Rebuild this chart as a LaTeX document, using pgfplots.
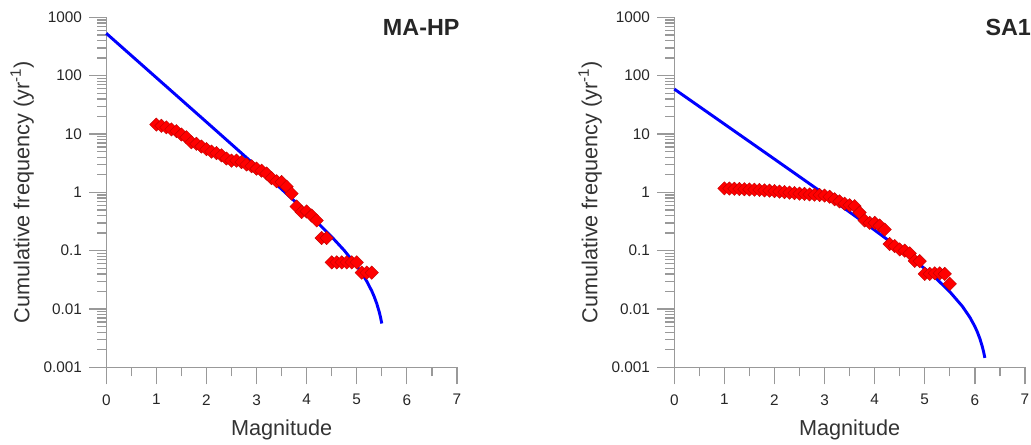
\documentclass[border=0pt]{standalone}
\usepackage{fontspec}
\setmainfont{Liberation Sans}
\usepackage{pgfplots}
\usepackage{pgfplotstable}
\pgfplotsset{compat=1.18}

% left panel (MA-HP)
\pgfplotstableread{
M N
1.0 14.5
1.1 13.8
1.2 13.0
1.3 12.0
1.4 11.2
1.5 9.8
1.6 8.8
1.7 7.2
1.8 6.8
1.9 6.1
2.0 5.5
2.1 5.0
2.2 4.7
2.3 4.3
2.4 3.8
2.5 3.5
2.6 3.5
2.7 3.3
2.8 3.0
2.9 2.8
3.0 2.55
3.1 2.35
3.2 2.1
3.3 1.75
3.4 1.55
3.5 1.5
3.6 1.25
3.7 0.95
3.8 0.57
3.9 0.46
4.0 0.47
4.1 0.40
4.2 0.33
4.3 0.165
4.4 0.165
4.5 0.063
4.6 0.063
4.7 0.063
4.8 0.063
4.9 0.063
5.0 0.063
5.1 0.042
5.2 0.042
5.3 0.042
}\obsA

\pgfplotstableread{
M N
0.0 532.0
0.5 221.7
1.0 92.42
1.5 38.51
2.0 16.04
2.5 6.668
3.0 2.762
3.5 1.134
4.0 0.4557
4.25 0.2838
4.5 0.1728
4.75 0.1011
5.0 0.05481
5.1 0.04128
5.2 0.02991
5.3 0.02038
5.35 0.01619
5.4 0.01236
5.45 0.00886
5.475 0.007214
5.5 0.005645
}\fitA

% right panel (SA1)
\pgfplotstableread{
M N
1.0 1.17
1.1 1.16
1.2 1.15
1.3 1.14
1.4 1.13
1.5 1.12
1.6 1.11
1.7 1.10
1.8 1.08
1.9 1.07
2.0 1.05
2.1 1.03
2.2 1.01
2.3 0.99
2.4 0.97
2.5 0.95
2.6 0.94
2.7 0.92
2.8 0.91
2.9 0.90
3.0 0.88
3.1 0.84
3.2 0.76
3.3 0.70
3.4 0.64
3.5 0.60
3.6 0.58
3.7 0.45
3.8 0.33
3.9 0.30
4.0 0.30
4.1 0.27
4.2 0.23
4.3 0.13
4.4 0.12
4.5 0.105
4.6 0.10
4.7 0.09
4.8 0.067
4.9 0.066
5.0 0.040
5.1 0.040
5.2 0.041
5.3 0.041
5.4 0.040
5.5 0.027
}\obsB

\pgfplotstableread{
M N
0.0 58.99
0.5 29.56
1.0 14.81
1.5 7.418
2.0 3.713
2.5 1.856
3.0 0.9253
3.5 0.4589
4.0 0.2251
4.5 0.1079
5.0 0.04921
5.25 0.03198
5.5 0.01978
5.75 0.01114
5.9 0.007224
6.0 0.005029
6.05 0.004039
6.1 0.003116
6.15 0.002254
6.175 0.001846
6.2 0.001451
}\fitB

\begin{document}
\begin{tikzpicture}
\path[use as bounding box] (0,0) rectangle (773.25pt,333pt);

\begin{axis}[
  at={(79.7pt,57.5pt)}, anchor=south west,
  scale only axis, width=263pt, height=262.5pt,
  xmin=0, xmax=7, ymin=0.001, ymax=1000, ymode=log,
  axis lines*=left,
  axis line style={black!40, line width=1pt},
  tick style={black!40, line width=1pt},
  tick align=outside, major tick length=12.75pt, minor tick length=6.75pt,
  xtick={0,1,...,7}, minor x tick num=1,
  ytick={0.001,0.01,0.1,1,10,100,1000},
  yticklabels={0.001,0.01,0.1,1,10,100,1000},
  /pgf/number format/assume math mode=true,
  tick label style={font=\fontsize{11.5}{13}\selectfont, text=black!85},
  xticklabel style={yshift=-4pt},
  yticklabel style={xshift=-2pt},
  xlabel={Magnitude},
  ylabel={Cumulative frequency (yr\textsuperscript{-1})},
  label style={font=\fontsize{16.25}{19}\selectfont, text=black!80},
  xlabel style={at={(axis description cs:0.5,-0.179)}, anchor=center},
  ylabel style={at={(axis description cs:-0.24,0.5)}, rotate=0, anchor=center},
  clip=false,
]
\addplot[only marks, mark=square*, mark size=3.55pt,
  mark options={rotate=45, fill=red, draw=red!75!black, line width=0.3pt}]
  table[x=M, y=N] {\obsA};
\addplot[blue, line width=2.2pt, no marks] table[x=M, y=N] {\fitA};
\node[anchor=east, inner sep=0pt, font=\bfseries\fontsize{17.5}{20}\selectfont, text=black!85]
  at (axis description cs:1.008,0.9715) {MA-HP};
\end{axis}

\begin{axis}[
  at={(505.7pt,57.5pt)}, anchor=south west,
  scale only axis, width=263pt, height=262.5pt,
  xmin=0, xmax=7, ymin=0.001, ymax=1000, ymode=log,
  axis lines*=left,
  axis line style={black!40, line width=1pt},
  tick style={black!40, line width=1pt},
  tick align=outside, major tick length=12.75pt, minor tick length=6.75pt,
  xtick={0,1,...,7}, minor x tick num=1,
  ytick={0.001,0.01,0.1,1,10,100,1000},
  yticklabels={0.001,0.01,0.1,1,10,100,1000},
  /pgf/number format/assume math mode=true,
  tick label style={font=\fontsize{11.5}{13}\selectfont, text=black!85},
  xticklabel style={yshift=-4pt},
  yticklabel style={xshift=-2pt},
  xlabel={Magnitude},
  ylabel={Cumulative frequency (yr\textsuperscript{-1})},
  label style={font=\fontsize{16.25}{19}\selectfont, text=black!80},
  xlabel style={at={(axis description cs:0.5,-0.179)}, anchor=center},
  ylabel style={at={(axis description cs:-0.24,0.5)}, rotate=0, anchor=center},
  clip=false,
]
\addplot[only marks, mark=square*, mark size=3.55pt,
  mark options={rotate=45, fill=red, draw=red!75!black, line width=0.3pt}]
  table[x=M, y=N] {\obsB};
\addplot[blue, line width=2.2pt, no marks] table[x=M, y=N] {\fitB};
\node[anchor=west, inner sep=0pt, font=\bfseries\fontsize{17.5}{20}\selectfont, text=black!85]
  at (axis description cs:0.887,0.9715) {SA1};
\end{axis}
\end{tikzpicture}
\end{document}
